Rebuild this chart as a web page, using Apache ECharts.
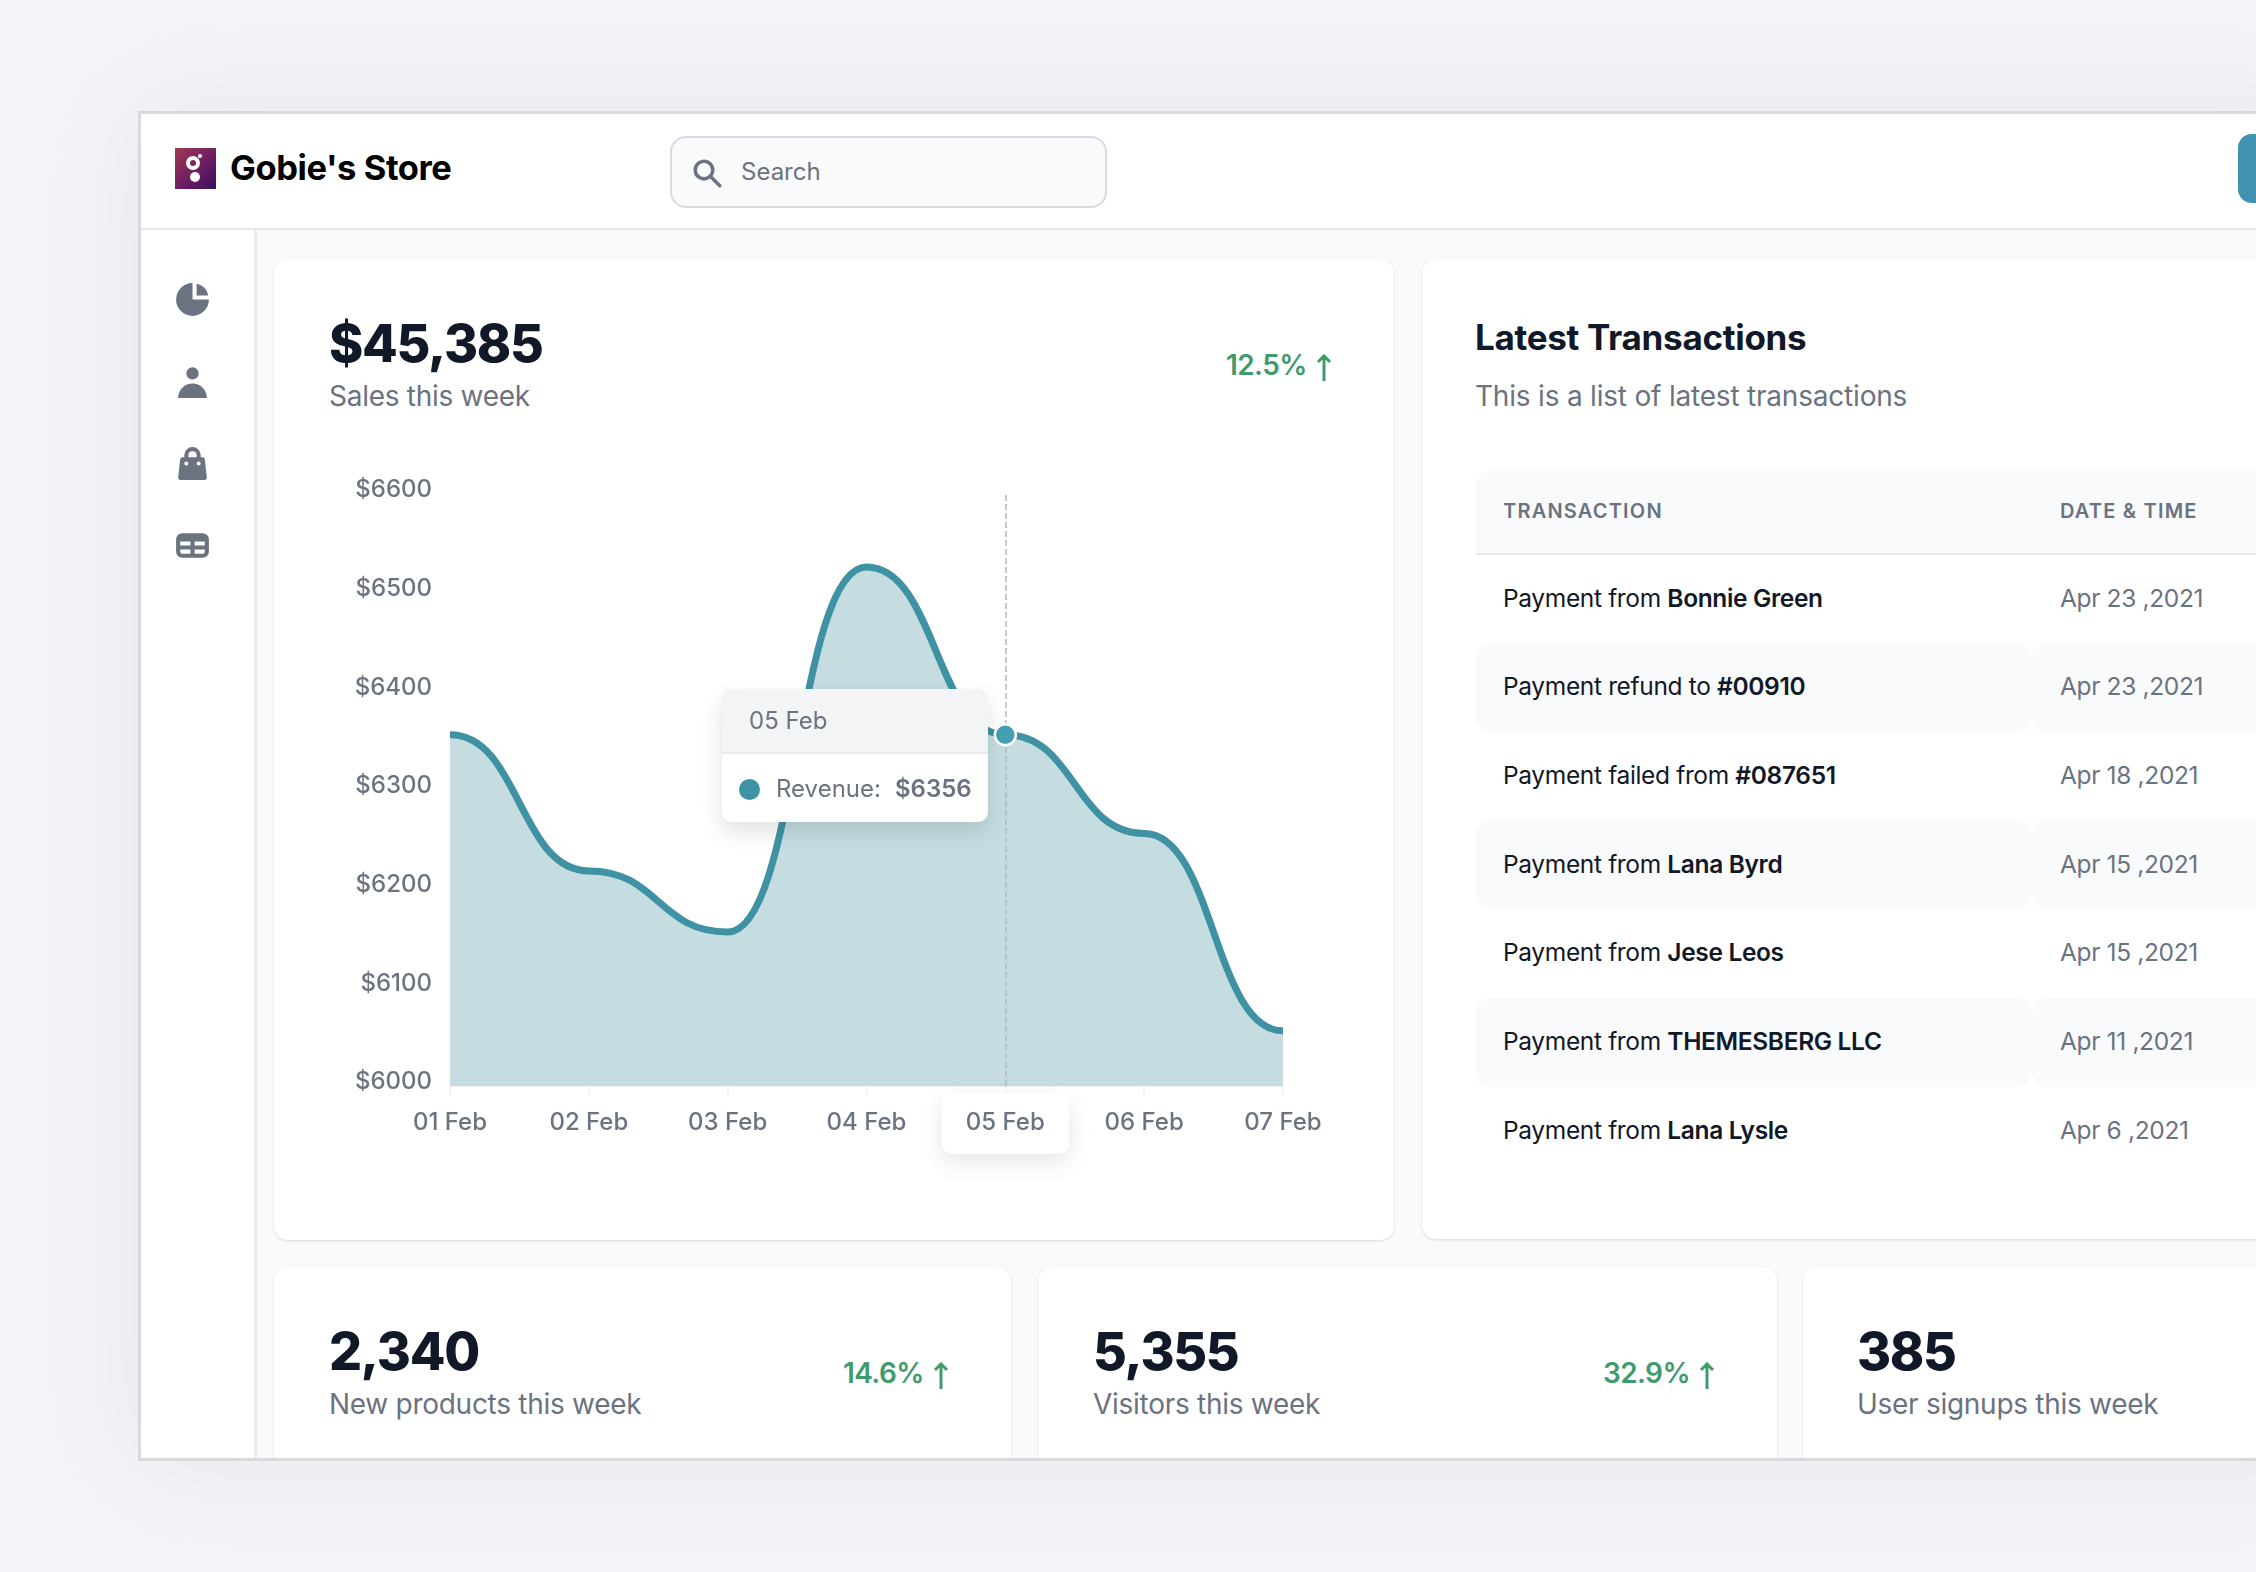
<!DOCTYPE html>
<html>
<head>
<meta charset="utf-8">
<title>Gobie's Store</title>
<script src="https://cdn.jsdelivr.net/npm/echarts@6/dist/echarts.min.js"></script>
<style>
  html, body { margin: 0; width: 2256px; height: 1572px; overflow: hidden; background: #f3f4f7; font-family: Inter, "Noto Sans", sans-serif; }
  .abs, .panel, .card, .stat-big, .stat-sub, .change, .row, .cell, svg.icon { position: absolute; }
  .panel { left: 138px; top: 111px; width: 2200px; height: 1350px; box-sizing: border-box; border: 3px solid #d9d9db; background: #f9fafb; overflow: hidden; box-shadow: 0 0 110px 10px rgba(17,24,39,.045); }
  .header { left: 0; top: 0; width: 100%; height: 114px; background: #fff; border-bottom: 2px solid #e5e7eb; }
  .side { left: 0; top: 116px; width: 113px; height: 1300px; background: #fff; border-right: 3px solid #e8eaee; }
  .card { background: #fff; border-radius: 14px; box-shadow: 0 1px 3px rgba(0,0,0,.13); }
  .title { left: 230px; top: 146px; font-size: 34.5px; line-height: 44px; font-weight: 700; letter-spacing: -.4px; color: #000; white-space: nowrap; }
  .search { left: 670px; top: 136px; width: 437px; height: 72px; box-sizing: border-box; border: 2px solid #d8dbe0; border-radius: 16px; background: #f9fafb; }
  .search-text { left: 741px; top: 157px; font-size: 24px; line-height: 30px; color: #6b7280; }
  .button { left: 2238px; top: 134px; width: 40px; height: 69px; border-radius: 14px; background: #4092ae; }
  .stat-big { font-weight: 800; color: #111827; white-space: nowrap; font-size: 52px; line-height: 60px; letter-spacing: -1.3px; }
  .stat-sub { color: #6b7280; white-space: nowrap; font-size: 28px; line-height: 36px; letter-spacing: -.28px; }
  .change { color: #3f9b6c; font-weight: 600; font-size: 28px; line-height: 34px; letter-spacing: -.6px; white-space: nowrap; text-align: right; }
  .tx-title { left: 1475px; top: 314.5px; font-size: 35px; line-height: 44px; font-weight: 700; letter-spacing: -.3px; color: #111827; white-space: nowrap; }
  .tx-head { left: 1476px; top: 471px; width: 800px; height: 82px; background: #f9fafb; border-radius: 14px 0 0 0; border-bottom: 2px solid #e5e7eb; }
  .th { font-size: 20px; line-height: 24px; font-weight: 600; letter-spacing: 1.2px; color: #6b7280; white-space: nowrap; }
  .row-bg { background: #f9fafb; height: 89px; }
  .cell { font-size: 24.5px; line-height: 30px; letter-spacing: -.35px; color: #111827; white-space: nowrap; }
  .cell b { font-weight: 600; }
  .cell.date { color: #6b7280; letter-spacing: -.35px; }
  #chart { position: absolute; left: 300px; top: 440px; width: 1060px; height: 760px; }
  svg.icon { fill: #6b7280; }
</style>
</head>
<body>
<div class="panel">
  <div class="abs header"></div>
  <div class="abs side"></div>
</div>

<div class="abs" style="left:175px;top:148px;width:41px;height:41px">
  <svg width="41" height="41" viewBox="0 0 41 41">
    <defs><linearGradient id="logo" x1="0" y1="0" x2="1" y2="1"><stop offset="0" stop-color="#a33a52"/><stop offset=".55" stop-color="#6c1d63"/><stop offset="1" stop-color="#38105c"/></linearGradient></defs>
    <rect width="41" height="41" fill="url(#logo)"/>
    <circle cx="18" cy="15" r="5" fill="none" stroke="#fff" stroke-width="4"/>
    <circle cx="25" cy="8" r="2" fill="#fff"/>
    <circle cx="20" cy="29" r="5" fill="#fff"/>
  </svg>
</div>
<div class="abs title">Gobie's Store</div>
<div class="abs search"></div>
<svg class="icon" style="left:689.5px;top:155.5px" width="35" height="35" viewBox="0 0 20 20"><path fill-rule="evenodd" d="M8 4a4 4 0 100 8 4 4 0 000-8zM2 8a6 6 0 1110.89 3.476l4.817 4.817a1 1 0 01-1.414 1.414l-4.816-4.816A6 6 0 012 8z"/></svg>
<div class="abs search-text">Search</div>
<div class="abs button"></div>

<svg class="icon" style="left:172px;top:279px" width="41" height="41" viewBox="0 0 20 20"><path d="M2 10a8 8 0 018-8v8h8a8 8 0 11-16 0z"/><path d="M12 2.252A8.014 8.014 0 0117.748 8H12V2.252z"/></svg>
<svg class="icon" style="left:172px;top:361px" width="41" height="41" viewBox="0 0 20 20"><path d="M10 9a3 3 0 100-6 3 3 0 000 6zm-7 9a7 7 0 1114 0H3z"/></svg>
<svg class="icon" style="left:172px;top:443px" width="41" height="41" viewBox="0 0 20 20"><path fill-rule="evenodd" d="M10 2a4 4 0 00-4 4v1H5a1 1 0 00-.994.89l-1 9A1 1 0 004 18h12a1 1 0 00.994-1.11l-1-9A1 1 0 0015 7h-1V6a4 4 0 00-4-4zm2 5V6a2 2 0 10-4 0v1h4zm-6 3a1 1 0 112 0 1 1 0 01-2 0zm7-1a1 1 0 100 2 1 1 0 000-2z"/></svg>
<svg class="icon" style="left:172px;top:525px" width="41" height="41" viewBox="0 0 20 20"><path fill-rule="evenodd" d="M5 4a3 3 0 00-3 3v6a3 3 0 003 3h10a3 3 0 003-3V7a3 3 0 00-3-3H5zm-1 9v-1h5v2H5a1 1 0 01-1-1zm7 1h4a1 1 0 001-1v-1h-5v2zm0-4h5V8h-5v2zm-2 0V8H4v2h5z"/></svg>

<div class="card" style="left:274px;top:259px;width:1120px;height:981px"></div>
<div class="card" style="left:1422px;top:259px;width:900px;height:980px"></div>
<div class="panelclip abs" style="left:141px;top:114px;width:2115px;height:1344px;overflow:hidden" id="statCards"></div>

<div class="stat-big" style="left:329px;top:314px">$45,385</div>
<div class="stat-sub" style="left:329px;top:378px">Sales this week</div>
<div class="change" id="mainChange"></div>

<div id="chart"></div>

<div class="abs tx-title">Latest Transactions</div>
<div class="stat-sub" style="left:1475px;top:378px;letter-spacing:-.2px">This is a list of latest transactions</div>
<div class="abs tx-head"></div>
<div class="abs th" style="left:1503px;top:499px">TRANSACTION</div>
<div class="abs th" style="left:2060px;top:499px">DATE &amp; TIME</div>
<div id="rows"></div>

<script>
const days = ['01 Feb', '02 Feb', '03 Feb', '04 Feb', '05 Feb', '06 Feb', '07 Feb'];
const revenue = [6356, 6218, 6156, 6526, 6356, 6256, 6056];
const activeDay = 4;
const yMin = 6000;
const yMax = 6600;
const yStep = 100;

const txPrefix = ['Payment from', 'Payment refund to', 'Payment failed from', 'Payment from', 'Payment from', 'Payment from', 'Payment from'];
const txName = ['Bonnie Green', '#00910', '#087651', 'Lana Byrd', 'Jese Leos', 'THEMESBERG LLC', 'Lana Lysle'];
const txDate = ['Apr 23 ,2021', 'Apr 23 ,2021', 'Apr 18 ,2021', 'Apr 15 ,2021', 'Apr 15 ,2021', 'Apr 11 ,2021', 'Apr 6 ,2021'];

const statValue = ['2,340', '5,355', '385'];
const statLabel = ['New products this week', 'Visitors this week', 'User signups this week'];
const statChange = ['14.6%', '32.9%', ''];

const arrow = (h) => `<svg width="18" height="${h}" viewBox="0 0 18 ${h}" style="vertical-align:-6px;margin-left:8px" fill="none" stroke="#3f9b6c" stroke-width="3"><path d="M9 ${h}V2M3 8l6-6 6 6"/></svg>`;

// header figure change
const mainChange = document.getElementById('mainChange');
mainChange.style.cssText = 'left:1226px;top:348px';
mainChange.innerHTML = '12.5%' + arrow(27);

// transaction rows, every second one on a tinted band
const rowsEl = document.getElementById('rows');
txName.forEach((name, i) => {
    const top = 553 + i * 88.7;
    let html = '';
    if (i % 2 === 1) {
        html += `<div class="abs row-bg" style="left:1476px;top:${top + 1}px;width:555px;border-radius:14px"></div>`;
        html += `<div class="abs row-bg" style="left:2032px;top:${top + 1}px;width:300px;border-radius:14px 0 0 14px"></div>`;
    }
    html += `<div class="cell" style="left:1503px;top:${top + 29.5}px">${txPrefix[i]} <b>${name}</b></div>`;
    html += `<div class="cell date" style="left:2060px;top:${top + 29.5}px">${txDate[i]}</div>`;
    rowsEl.insertAdjacentHTML('beforeend', html);
});

// bottom stat cards, clipped by the window frame
const cardLeft = [274, 1038, 1803];
const textLeft = [329, 1093, 1857];
const cardWidth = [737, 739, 600];
const changeLeft = [843, 1603, 0];
const statsEl = document.getElementById('statCards');
statValue.forEach((v, i) => {
    const x = cardLeft[i] - 141;
    const tx = textLeft[i] - 141;
    let html = `<div class="card" style="left:${x}px;top:1153px;width:${cardWidth[i]}px;height:300px"></div>`;
    html += `<div class="stat-big" style="left:${tx}px;top:1208px">${v}</div>`;
    html += `<div class="stat-sub" style="left:${tx}px;top:1272px">${statLabel[i]}</div>`;
    if (statChange[i]) {
        html += `<div class="change" style="left:${changeLeft[i] - 141}px;top:1242px">${statChange[i]}${arrow(27)}</div>`;
    }
    statsEl.insertAdjacentHTML('beforeend', html);
});

const lineColor = '#3f92a3';
const areaColor = '#c5dde1';
const labelColor = '#6b7280';

// The curve has a flat tangent at every point, end points included, which the
// line series' smoothing cannot do at the ends. So draw it once, as one path.
function renderCurve(params, api) {
    if (params.dataIndex !== 0) {
        return { type: 'group', children: [] };
    }
    const pts = revenue.map((v, i) => api.coord([i, v]));
    const base = api.coord([0, yMin])[1];
    let d = `M${pts[0][0]} ${pts[0][1]}`;
    for (let i = 1; i < pts.length; i++) {
        const half = (pts[i][0] - pts[i - 1][0]) / 2;
        d += `C${pts[i - 1][0] + half} ${pts[i - 1][1]} ${pts[i][0] - half} ${pts[i][1]} ${pts[i][0]} ${pts[i][1]}`;
    }
    const last = pts[pts.length - 1];
    return {
        type: 'group',
        children: [
            { type: 'path', shape: { pathData: `${d}L${last[0]} ${base}L${pts[0][0]} ${base}Z` }, style: { fill: areaColor } },
            { type: 'path', shape: { pathData: d }, style: { fill: 'none', stroke: lineColor, lineWidth: 7 } }
        ]
    };
}

const chart = echarts.init(document.getElementById('chart'), null, { renderer: 'canvas' });
chart.setOption({
    animation: false,
    grid: { left: 150, top: 54, width: 833, height: 592 },
    tooltip: {
        trigger: 'axis',
        triggerOn: 'none',
        alwaysShowContent: true,
        transitionDuration: 0,
        padding: 0,
        borderWidth: 0,
        backgroundColor: '#fff',
        extraCssText: 'border-radius:10px;overflow:hidden;box-shadow:0 10px 22px rgba(0,0,0,.12);width:266px;height:133px;',
        position: [422, 249],
        formatter: (params) => {
            const i = params[0].dataIndex;
            return `<div style="height:63px;background:#f3f4f6;border-bottom:2px solid #e9ebef;padding-left:27px;font:400 24px/63px Inter;color:${labelColor}">${days[i]}</div>`
                + `<div style="position:relative;height:68px;font:400 24px/70px Inter;color:${labelColor}">`
                + `<span style="position:absolute;left:17px;top:25px;width:21px;height:21px;border-radius:50%;background:${lineColor}"></span>`
                + `<span style="position:absolute;left:54px">Revenue:</span>`
                + `<span style="position:absolute;left:173px;font-weight:600">$${revenue[i]}</span></div>`;
        }
    },
    xAxis: {
        type: 'category',
        boundaryGap: false,
        data: days,
        axisLine: { lineStyle: { color: '#f3f4f6', width: 2 } },
        axisTick: { show: true, length: 10, lineStyle: { color: '#f3f4f6', width: 1.5 } },
        axisLabel: { color: labelColor, fontFamily: 'Inter', fontSize: 24, fontWeight: 500, margin: 24.5, interval: 0 },
        axisPointer: {
            show: true,
            lineStyle: { type: 'dashed', color: '#b4b8be', width: 1.5 },
            label: {
                show: true,
                margin: 7,
                padding: [18, 24, 19, 24],
                color: labelColor,
                fontFamily: 'Inter',
                fontSize: 24,
                fontWeight: 500,
                backgroundColor: '#fff',
                borderRadius: 10,
                shadowBlur: 24,
                shadowOffsetY: 8,
                shadowColor: 'rgba(0,0,0,.1)'
            }
        }
    },
    yAxis: {
        type: 'value',
        min: yMin,
        max: yMax,
        interval: yStep,
        axisLine: { show: false },
        axisTick: { show: false },
        splitLine: { show: false },
        axisPointer: { show: false },
        axisLabel: {
            color: labelColor,
            fontFamily: 'Inter',
            fontSize: 24,
            fontWeight: 500,
            margin: 18,
            verticalAlign: 'bottom',
            lineHeight: 8,
            formatter: (v) => '$' + v
        }
    },
    series: [{
        name: 'Revenue',
        type: 'custom',
        data: revenue.map((v, i) => [i, v]),
        encode: { x: 0, y: 1 },
        renderItem: renderCurve,
        z: 2
    }, {
        // hovered point only, above the crosshair
        name: 'Active',
        type: 'line',
        data: revenue.map((v, i) => (i === activeDay ? v : null)),
        symbol: 'circle',
        showSymbol: true,
        showAllSymbol: true,
        symbolSize: 21,
        lineStyle: { width: 0 },
        itemStyle: { color: lineColor, borderColor: '#fff', borderWidth: 2.5 },
        emphasis: { scale: false },
        z: 60
    }]
});
chart.dispatchAction({ type: 'showTip', seriesIndex: 1, dataIndex: activeDay });
</script>
</body>
</html>
